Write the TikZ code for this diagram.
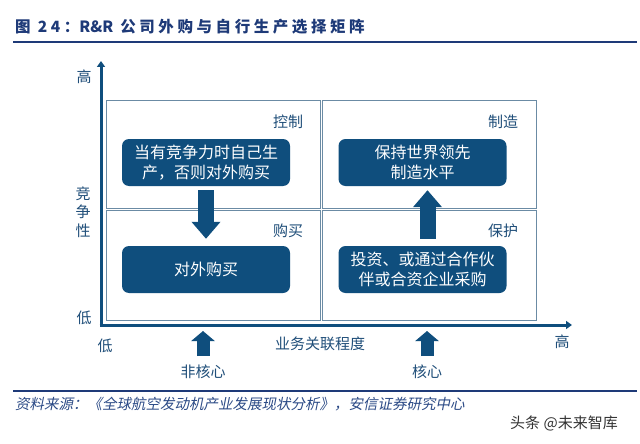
\documentclass[tikz,border=0pt]{standalone}
\usepackage{fontspec}
\setmainfont{Noto Sans CJK SC}
\newfontfamily\slantcjk{Noto Sans CJK SC}[FakeSlant=0.2]
\newfontfamily\titlecjk{Noto Sans CJK SC}[LetterSpace=23]
\newfontfamily\titlelat{Noto Sans CJK SC}
\usetikzlibrary{arrows.meta}
\definecolor{navy}{HTML}{1E3A78}
\definecolor{srcblue}{HTML}{2B4A86}
\definecolor{boxblue}{HTML}{0F4E7D}
\definecolor{labblue}{HTML}{1F4E79}
\definecolor{quadline}{HTML}{6B8BA4}
\definecolor{wmgray}{HTML}{333333}
\tikzset{
  quad/.style={draw=quadline, line width=1.2pt, inner sep=0pt, anchor=north west},
  optbox/.style={fill=boxblue, rounded corners=7pt, text=white, minimum width=168pt, minimum height=47pt, align=center, inner sep=0pt, font=\fontsize{16}{20}\selectfont},
  qlabel/.style={text=labblue, font=\fontsize{15}{18}\selectfont, inner sep=0pt},
  axlabel/.style={text=labblue, font=\fontsize{15}{18.5}\selectfont, inner sep=0pt, align=center},
  axisline/.style={draw=boxblue, line width=3pt, -{Triangle[width=8pt,length=6pt]}},
  bigarrow/.style={draw=boxblue, line width=16pt, -{Triangle[width=28pt,length=17pt]}},
  smallarrow/.style={draw=boxblue, line width=13pt, -{Triangle[width=23pt,length=10pt]}},
  rule/.style={draw=navy, line width=1.6pt}
}
\begin{document}
\begin{tikzpicture}[x=1pt,y=-1pt]
\useasboundingbox[fill=white] (0,0) rectangle (640,444);
% title
\node[anchor=west, text=navy, inner sep=0pt, font=\titlecjk\fontsize{15.5}{18}\selectfont\bfseries] (title) at (15,27) {图 24：{\titlelat\bfseries R\&R} 公司外购与自行生产选择矩阵};
\coordinate (tl1) at (13,42);
\coordinate (tl2) at (637,42);
\draw[rule] (tl1) -- (tl2);
% quadrants
\node[quad, minimum width=214pt, minimum height=108pt] (q1) at (106,100) {};
\node[quad, minimum width=214pt, minimum height=108pt] (q2) at (322,100) {};
\node[quad, minimum width=214pt, minimum height=110pt] (q3) at (106,210) {};
\node[quad, minimum width=214pt, minimum height=110pt] (q4) at (322,210) {};
% quadrant labels
\node[qlabel] (l1) at (288,122) {控制};
\node[qlabel] (l2) at (503,122) {制造};
\node[qlabel] (l3) at (288,231) {购买};
\node[qlabel] (l4) at (503,231) {保护};
% boxes
\node[optbox] (b1) at (206,162.5) {当有竞争力时自己生\\产，否则对外购买};
\node[optbox] (b2) at (422.5,162.5) {保持世界领先\\制造水平};
\node[optbox] (b3) at (206,269.5) {对外购买};
\node[optbox] (b4) at (422.5,269.5) {投资、或通过合作伙\\伴或合资企业采购};
% block arrows
\draw[bigarrow] ([yshift=-4pt]b1.south) -- ([yshift=7pt]b3.north);
\draw[bigarrow] ([xshift=5pt,yshift=7pt]b4.north) -- ([xshift=5pt,yshift=-4pt]b2.north |- b2.south);
% axes
\coordinate (origin) at (101,325);
\coordinate (ytop) at (101,61);
\coordinate (xend) at (572,325);
\draw[axisline] ([yshift=-1.5pt]origin) -- (ytop);
\draw[axisline] ([xshift=-1.5pt]origin) -- (xend);
% axis labels
\node[axlabel] (yhigh) at (84,77) {高};
\node[axlabel] (yname) at (83,212) {竞\\争\\性};
\node[axlabel] (ylow) at (84,318) {低};
\node[axlabel] (xlow) at (105,346) {低};
\node[axlabel] (xname) at (320,344) {业务关联程度};
\node[axlabel] (xhigh) at (562,342) {高};
% bottom arrows
\node[axlabel] (nc) at (203,372) {非核心};
\node[axlabel] (cc) at (427,372) {核心};
\coordinate (a1s) at (203,356);
\coordinate (a1e) at (203,331);
\coordinate (a2s) at (427,356);
\coordinate (a2e) at (427,331);
\draw[smallarrow] (a1s) -- (a1e);
\draw[smallarrow] (a2s) -- (a2e);
% bottom rule and source
\coordinate (bl1) at (13,391);
\coordinate (bl2) at (637,391);
\draw[rule] (bl1) -- (bl2);
\node[anchor=west, text=srcblue, inner sep=0pt, font=\fontsize{14.5}{17}\slantcjk] (src) at (15,404) {资料来源：《全球航空发动机产业发展现状分析》，安信证券研究中心};
\node[anchor=west, text=wmgray, inner sep=0pt, font=\fontsize{15}{18}\selectfont] (wm) at (510,423) {头条 @未来智库};
\end{tikzpicture}
\end{document}
